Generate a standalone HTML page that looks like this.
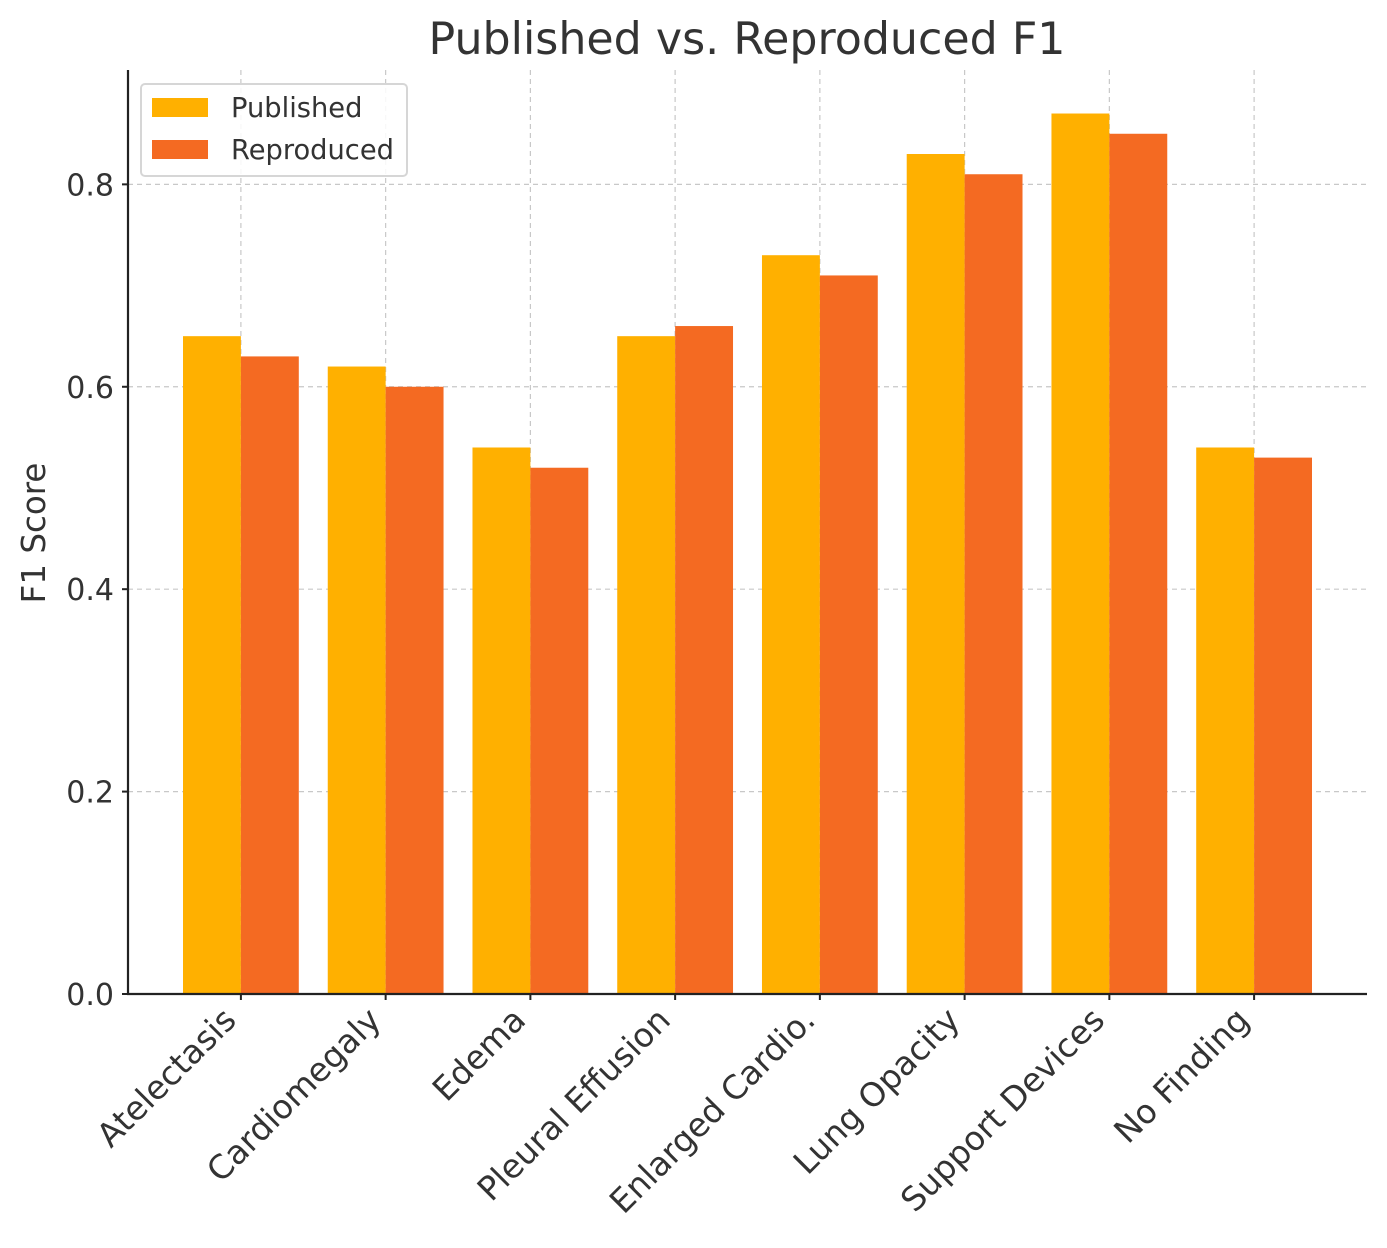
<!DOCTYPE html>
<html><head><meta charset="utf-8"><style>
body{margin:0;background:#fff;}
svg text{font-family:"DejaVu Sans","Liberation Sans",sans-serif;fill:#333;}
</style></head><body>
<svg id="chart" width="1387" height="1243" xmlns="http://www.w3.org/2000/svg">
<rect width="1387" height="1243" fill="#fff"/>
<text x="747" y="54" font-size="44.3" text-anchor="middle">Published vs. Reproduced F1</text>
<text transform="translate(45,533) rotate(-90)" font-size="32.5" text-anchor="middle">F1 Score</text>
<g id="grid"></g><g id="bars"></g><g id="axes"></g>
<g>
<rect x="141" y="84" width="266" height="92" rx="4" fill="#fff" fill-opacity="0.85" stroke="#d6d6d6" stroke-width="2"/>
<rect x="152" y="98" width="56" height="19" fill="#FFB000"/>
<text x="231" y="117" font-size="27.3">Published</text>
<rect x="152" y="140" width="56" height="19" fill="#F46A22"/>
<text x="231" y="159" font-size="27.3">Reproduced</text>
</g>
</svg>
<script>
const categories=["Atelectasis","Cardiomegaly","Edema","Pleural Effusion","Enlarged Cardio.","Lung Opacity","Support Devices","No Finding"];
const published=[0.65,0.62,0.54,0.65,0.73,0.83,0.87,0.54];
const reproduced=[0.63,0.60,0.52,0.66,0.71,0.81,0.85,0.53];
const yTicks=[0.0,0.2,0.4,0.6,0.8];
const yTickLabels=["0.0","0.2","0.4","0.6","0.8"];
const NS="http://www.w3.org/2000/svg";
const L=128,R=1367,T=70,B=994,xmin=-0.78,xmax=7.78,ymax=0.913;
const xs=v=>L+(v-xmin)/(xmax-xmin)*(R-L);
const ys=v=>B-v/ymax*(B-T);
const bw=(xs(0.4)-xs(0));
function mk(t,a,p){const e=document.createElementNS(NS,t);for(const k in a)e.setAttribute(k,a[k]);p.appendChild(e);return e;}
const grid=document.getElementById('grid'),bars=document.getElementById('bars'),axes=document.getElementById('axes');
yTicks.forEach((v,i)=>{
 if(v>0){const g=mk('line',{x1:L,x2:R,y1:ys(v),y2:ys(v),stroke:'#c8c8c8','stroke-width':1.2,'stroke-dasharray':'5,4'},grid);
 
 }
 const tk=mk('line',{x1:L-6,x2:L,y1:ys(v),y2:ys(v),stroke:'#222','stroke-width':2},axes);
 
 
 const t=mk('text',{x:L-14,y:ys(v)+11,'font-size':30,'text-anchor':'end'},axes);t.textContent=yTickLabels[i];
 
 
});
categories.forEach((c,i)=>{
 const g=mk('line',{x1:xs(i),x2:xs(i),y1:T,y2:B,stroke:'#c8c8c8','stroke-width':1.2,'stroke-dasharray':'5,4'},grid);
 
 
 const b1=mk('rect',{x:xs(i-0.4),y:ys(published[i]),width:bw,height:B-ys(published[i]),fill:'#FFB000'},bars);
 
 
 const b2=mk('rect',{x:xs(i),y:ys(reproduced[i]),width:bw,height:B-ys(reproduced[i]),fill:'#F46A22'},bars);
 
 
 const tk=mk('line',{x1:xs(i),x2:xs(i),y1:B,y2:B+6,stroke:'#222','stroke-width':2},axes);
 
 
 const t=mk('text',{transform:`translate(${xs(i)-3},${B+28}) rotate(-45)`,'font-size':33,'text-anchor':'end'},axes);t.textContent=c;
 
 
});
const s1=mk('line',{x1:L,x2:L,y1:T,y2:B+1,stroke:'#222','stroke-width':2.2},axes);


const s2=mk('line',{x1:L-1,x2:R,y1:B,y2:B,stroke:'#222','stroke-width':2.2},axes);


</script>
</body></html>
